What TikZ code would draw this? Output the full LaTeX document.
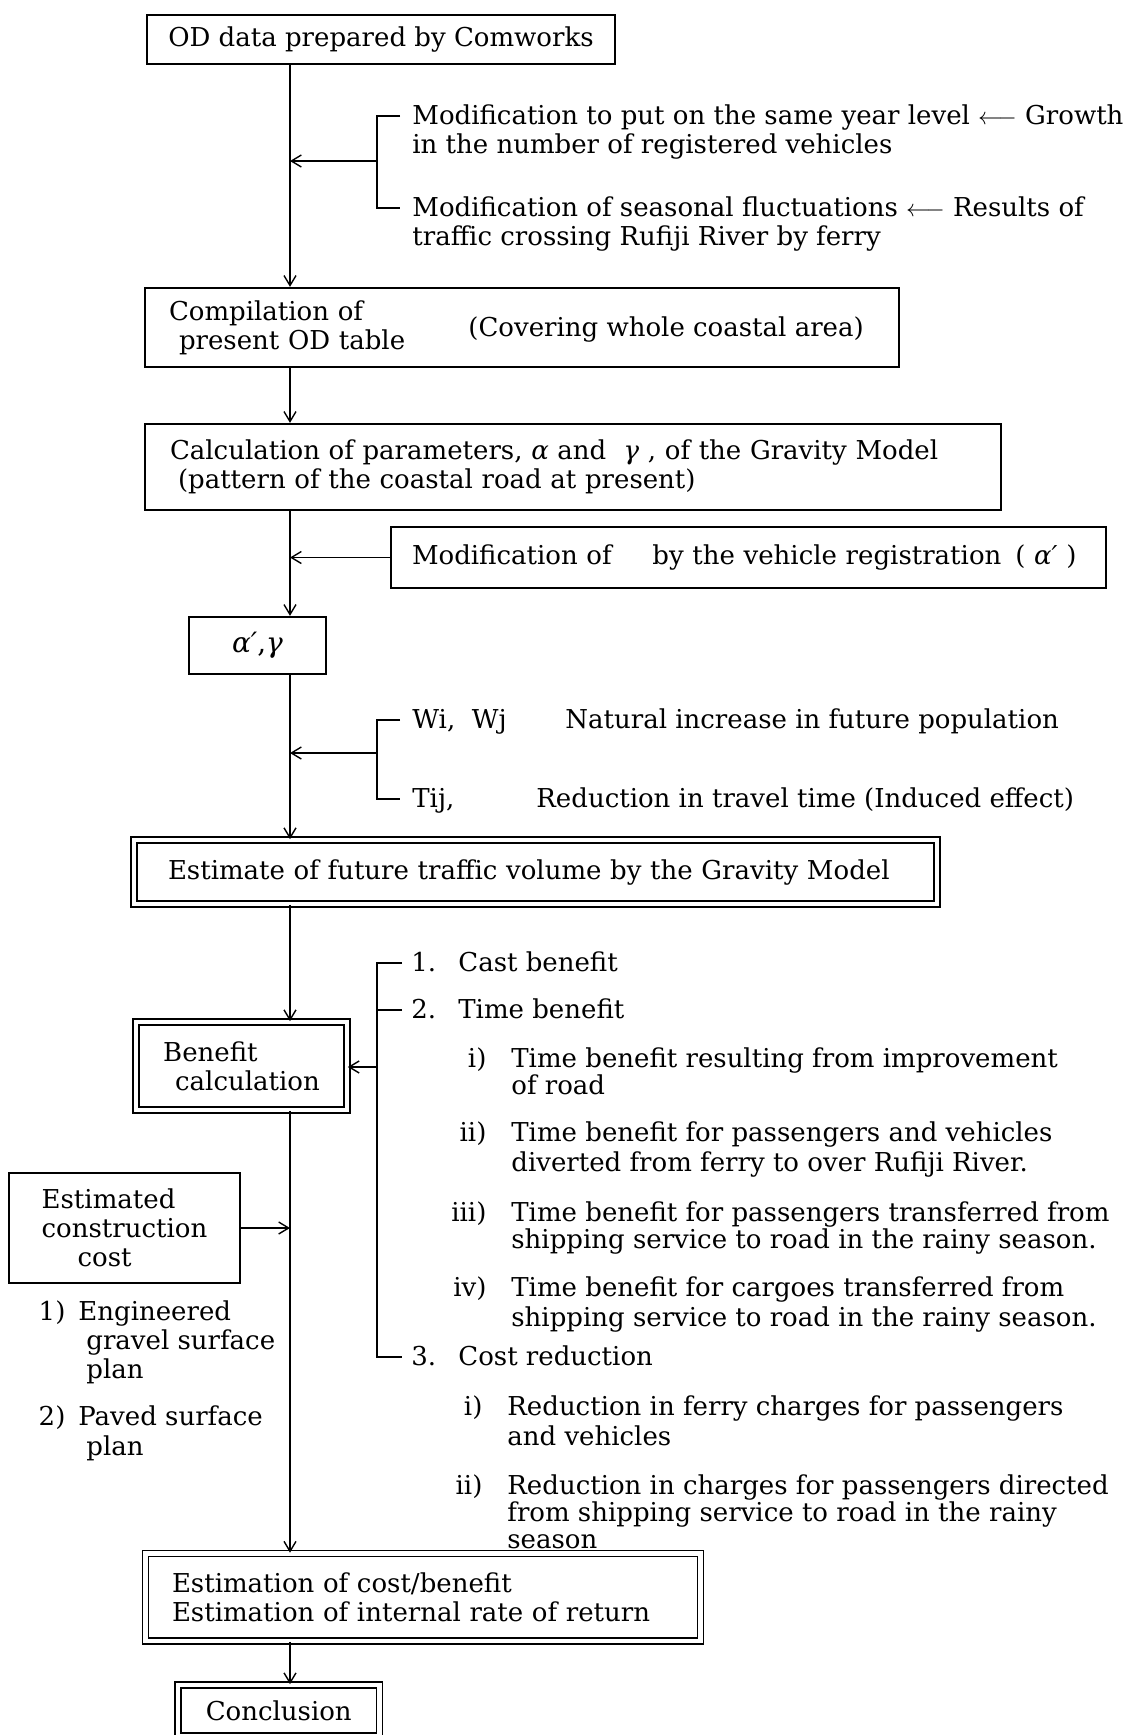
\documentclass[tikz,border=0pt]{standalone}
\usepackage{fontspec}
\setmainfont{DejaVu Serif}
\usetikzlibrary{arrows.meta,positioning}
\begin{document}
\begin{tikzpicture}[x=0.5pt,y=-0.5pt,
	every node/.style={font=\fontsize{13}{14.5}\selectfont},
	box/.style={draw,line width=1.1pt,inner sep=0pt,align=left},
	dbox/.style={draw,line width=0.8pt,double,double distance=2.2pt,inner sep=0pt,align=left},
	txt/.style={anchor=base west,inner sep=0pt,align=left},
	tight/.style={font=\fontsize{13}{13.5}\selectfont},
	wide/.style={font=\fontsize{13}{15}\selectfont},
	line/.style={line width=0.7pt},
	flow/.style={line,-{Straight Barb[length=5pt,width=6pt]}}]
	\useasboundingbox (0,0) rectangle (1137,1735);
	\coordinate (spine) at (290,0);
	\node [box,minimum width=234pt,minimum height=24.5pt] (od) at (381,39.5) {OD data prepared by Comworks};
	\node [box,minimum width=377pt,minimum height=39.5pt,inner xsep=12pt,text width=353pt] (comp) at (522,327.5) {Compilation of\\\hspace*{5pt}present OD table};
	\node [txt] (cover) at (468,336) {(Covering whole coastal area)};
	\node [box,minimum width=428pt,minimum height=43pt,inner xsep=12.5pt,text width=403pt] (calc) at (573,467) {Calculation of parameters, \textit{α} and\ \ \textit{γ}\ , of the Gravity Model\\\hspace*{4pt}(pattern of the coastal road at present)};
	\node [box,minimum width=357.5pt,minimum height=30.5pt,inner xsep=10.5pt,text width=336.5pt] (modreg) at (748.5,557.5) {Modification of\hspace{16pt} by the vehicle registration\hspace{7pt}( \textit{α′} )};
	\node [box,minimum width=68.5pt,minimum height=28.5pt,align=center,font=\fontsize{14}{15}\selectfont] (param) at (257.5,645.5) {\textit{α′},\textit{γ}};
	\node [dbox,minimum width=401.5pt,minimum height=32pt,inner xsep=17pt,text width=367.5pt] (est) at (535.5,872) {Estimate of future traffic volume by the Gravity Model};
	\node [dbox,minimum width=105.5pt,minimum height=44pt] (ben) at (241.5,1066) {Benefit\\\hspace*{6pt}calculation};
	\node [box,minimum width=115.5pt,minimum height=55pt] (cons) at (124.5,1228) {Estimated\\construction\\\hspace*{18pt}cost};
	\node [dbox,minimum width=277.5pt,minimum height=43.75pt,inner xsep=13.25pt,text width=251pt] (eval) at (423,1597.25) {Estimation of cost/benefit\\Estimation of internal rate of return};
	\node [dbox,minimum width=100.75pt,minimum height=25.5pt,align=center] (concl) at (278.75,1710.5) {Conclusion};
	\node [txt] (mod1) at (412,153) {Modification to put on the same year level $\longleftarrow$ Growth\\in the number of registered vehicles};
	\node [txt] (mod2) at (412,245) {Modification of seasonal fluctuations $\longleftarrow$ Results of\\traffic crossing Rufiji River by ferry};
	\node [txt] (wi) at (412,728) {Wi,\ \ Wj};
	\node [txt] (popul) at (565,728) {Natural increase in future population};
	\node [txt] (tij) at (412,807) {Tij,};
	\node [txt] (travel) at (536,807) {Reduction in travel time (Induced effect)};
	\node [txt] (it1) at (411,971) {\makebox[23.5pt][l]{1.}Cast benefit};
	\node [txt] (it2) at (411,1018) {\makebox[23.5pt][l]{2.}Time benefit};
	\node [txt,tight] (tb1) at (511,1094) {\llap{i)\hspace{12.5pt}}Time benefit resulting from improvement\\of road};
	\node [txt,wide] (tb2) at (511,1171) {\llap{ii)\hspace{12.5pt}}Time benefit for passengers and vehicles\\diverted from ferry to over Rufiji River.};
	\node [txt,tight] (tb3) at (511,1248) {\llap{iii)\hspace{12.5pt}}Time benefit for passengers transferred from\\shipping service to road in the rainy season.};
	\node [txt,wide] (tb4) at (511,1326) {\llap{iv)\hspace{12.5pt}}Time benefit for cargoes transferred from\\shipping service to road in the rainy season.};
	\node [txt] (it3) at (411,1365) {\makebox[23.5pt][l]{3.}Cost reduction};
	\node [txt,wide] (cr1) at (507,1445) {\llap{i)\hspace{12.5pt}}Reduction in ferry charges for passengers\\and vehicles};
	\node [txt,tight] (cr2) at (507,1548) {\llap{ii)\hspace{12.5pt}}Reduction in charges for passengers directed\\from shipping service to road in the rainy\\season};
	\node [txt] (plan1) at (78,1378) {\llap{1)\hspace{6.5pt}}Engineered\\\hspace*{4pt}gravel surface\\\hspace*{4pt}plan};
	\node [txt,wide] (plan2) at (78,1455) {\llap{2)\hspace{6.5pt}}Paved surface\\\hspace*{4pt}plan};
	\draw [flow] (od.south -| spine) -- (comp.north -| spine);
	\draw [flow] (comp.south -| spine) -- (calc.north -| spine);
	\draw [flow] (calc.south -| spine) -- (param.north -| spine);
	\draw [flow] (param.south -| spine) -- (est.north -| spine);
	\draw [flow] (est.south -| spine) -- (ben.north -| spine);
	\draw [flow] (ben.south -| spine) -- (eval.north -| spine);
	\draw [flow] (eval.south -| spine) -- (concl.north -| spine);
	\coordinate (b1) at (377,161);
	\coordinate (t1a) at ([xshift=-6pt,yshift=18.5pt]mod1.base west);
	\coordinate (t1b) at ([xshift=-6pt,yshift=18.5pt]mod2.base west);
	\draw [line] (t1a) -| (b1) |- (t1b);
	\draw [flow] (b1) -- (b1 -| spine);
	\draw [flow] (modreg.west) -- (modreg.west -| spine);
	\coordinate (b2) at (377,753);
	\coordinate (t2a) at ([xshift=-6pt,yshift=4pt]wi.base west);
	\coordinate (t2b) at ([xshift=-6pt,yshift=4pt]tij.base west);
	\draw [line] (t2a) -| (b2) |- (t2b);
	\draw [flow] (b2) -- (b2 -| spine);
	\coordinate (b3) at (377,1067);
	\coordinate (t3a) at ([xshift=-4.5pt,yshift=4pt]it1.base west);
	\coordinate (t3b) at ([xshift=-4.5pt,yshift=4pt]it2.base west);
	\coordinate (t3c) at ([xshift=-4.5pt,yshift=4pt]it3.base west);
	\draw [line] (t3a) -| (b3) |- (t3c);
	\draw [line] (t3b) -- (t3b -| b3);
	\draw [flow] (b3) -- (b3 -| ben.east);
	\draw [flow] (cons.east) -- (cons.east -| spine);
\end{tikzpicture}
\end{document}
